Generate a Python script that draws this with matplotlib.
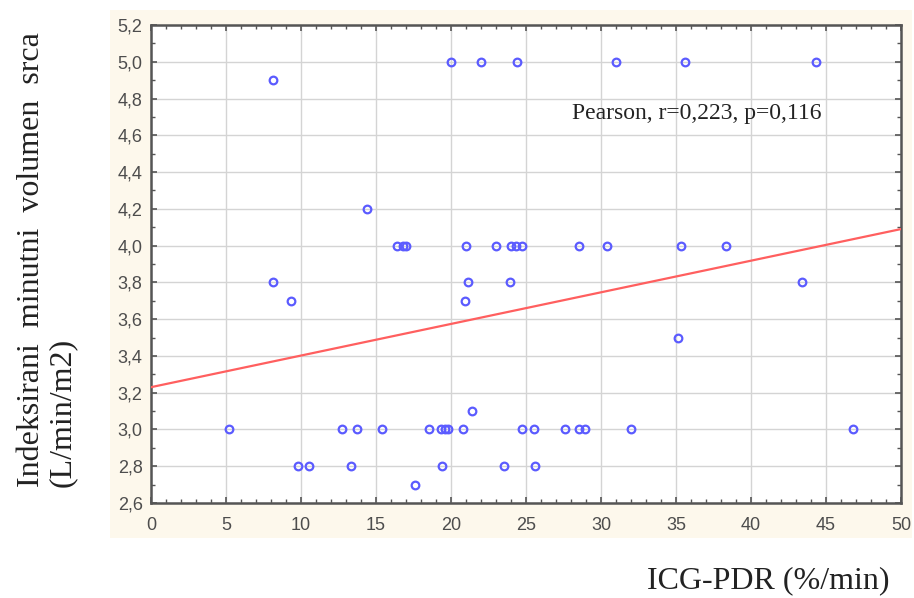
import matplotlib
matplotlib.use("Agg")
import matplotlib.pyplot as plt
from matplotlib.patches import Rectangle
from matplotlib.ticker import MultipleLocator, FuncFormatter

# ICG-PDR (%/min) values per cardiac index level
icg_pdr = [20.0, 22.0, 24.4, 31.0, 35.6, 44.3,
           8.1,
           14.4,
           16.4, 16.8, 17.0, 21.0, 23.0, 24.0, 24.3, 24.7, 28.5, 30.4, 35.3, 38.3,
           8.1, 21.1, 23.9, 43.4,
           9.3, 20.9,
           35.1,
           21.4,
           5.2, 12.7, 13.7, 15.4, 18.5, 19.3, 19.6, 19.8, 20.8, 24.7, 25.5, 27.6, 28.5, 28.9, 32.0, 46.8,
           9.8, 10.5, 13.3, 19.4, 23.5, 25.6,
           17.6]
cardiac_index = [5.0]*6 + [4.9] + [4.2] + [4.0]*12 + [3.8]*4 + [3.7]*2 + [3.5] + [3.1] + \
                [3.0]*16 + [2.8]*6 + [2.7]

fit_x = [0, 50]
fit_y = [3.23, 4.09]

annotation = "Pearson, r=0,223, p=0,116"
xlabel = "ICG-PDR (%/min)"
ylabel = "Indeksirani  minutni  volumen  srca\n(L/min/m2)"

W, H = 914, 598
fig = plt.figure(figsize=(W/100, H/100), dpi=100)
fig.patch.set_facecolor("white")

# cream panel behind the plot
fig.patches.append(Rectangle((110/W, 1-538/H), (912-110)/W, (538-10)/H,
                             transform=fig.transFigure, facecolor="#fdf8ec",
                             edgecolor="none", zorder=-10))

ax = fig.add_axes([151/W, 1-503/H, (901-151)/W, (503-25)/H])
ax.set_zorder(1)
ax.set_facecolor("white")
ax.set_xlim(0, 50)
ax.set_ylim(2.6, 5.2)

ax.xaxis.set_major_locator(MultipleLocator(5))
ax.xaxis.set_minor_locator(MultipleLocator(1))
ax.yaxis.set_major_locator(MultipleLocator(0.2))
ax.yaxis.set_minor_locator(MultipleLocator(0.1))
ax.yaxis.set_major_formatter(FuncFormatter(lambda v, p: f"{v:.1f}".replace(".", ",")))
ax.xaxis.set_major_formatter(FuncFormatter(lambda v, p: f"{v:.0f}"))

ax.grid(True, which="major", color="#d4d4d4", linewidth=1.0, zorder=0)
ax.set_axisbelow(True)

for s in ax.spines.values():
    s.set_color("#555555")
    s.set_linewidth(1.8)

ax.tick_params(which="both", direction="in", top=True, right=True, color="#555555")
ax.tick_params(which="major", length=4, width=1.2)
ax.tick_params(which="minor", length=3, width=1.0)
ax.tick_params(axis="x", which="major", pad=10, labelsize=13, labelcolor="#4d4d4d")
ax.tick_params(axis="y", which="major", pad=6, labelsize=13, labelcolor="#4d4d4d")
for lab in ax.get_xticklabels() + ax.get_yticklabels():
    lab.set_fontfamily("Liberation Sans")

ax.plot(fit_x, fit_y, color="#ff5f5f", linewidth=1.6, zorder=3)
ax.plot(icg_pdr, cardiac_index, linestyle="none", marker="o", markersize=5.5,
        markerfacecolor="none", markeredgecolor="#5b5bff", markeredgewidth=1.6, zorder=4)

ax.text(28.1, 4.72, annotation, fontsize=17, family="Liberation Serif",
        color="#222222", va="center", ha="left")

fig.text(647/W, 1-581/H, xlabel, fontsize=23, family="Liberation Serif",
         color="#222222", ha="left", va="center")
fig.text(47/W, 1-487/H, ylabel, fontsize=23, family="Liberation Serif",
         color="#222222", rotation=90, ha="center", va="bottom",
         multialignment="left", linespacing=1.1)

fig.savefig("out.png", dpi=100)
